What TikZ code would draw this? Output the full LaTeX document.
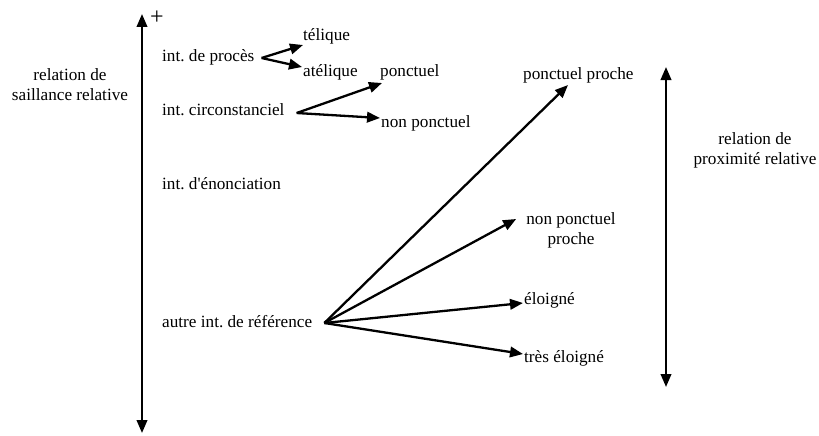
\documentclass[tikz,border=0pt]{standalone}
\usepackage{fontspec}
\setmainfont{Liberation Serif}
\usetikzlibrary{arrows.meta}
\frenchspacing
\tikzset{
  lbl/.style={inner sep=0pt, anchor=west, font=\fontsize{17.2pt}{20pt}\selectfont},
  clbl/.style={inner sep=0pt, align=center, font=\fontsize{17.2pt}{20pt}\selectfont},
  arr/.style={line width=2.3pt, -{Triangle[length=13pt,width=10.5pt]}},
  darr/.style={line width=2.3pt, {Triangle[length=13pt,width=10.5pt]}-{Triangle[length=13pt,width=10.5pt]}}
}
\begin{document}
\begin{tikzpicture}[x=1pt,y=-1pt]
\useasboundingbox (0,0) rectangle (819,436);
% axes
\coordinate (ltop) at (142,14);
\coordinate (lbot) at (142,433);
\coordinate (rtop) at (666,67);
\coordinate (rbot) at (666,387);
\draw[darr] (lbot) -- (ltop);
\draw[darr] (rbot) -- (rtop);
\node[inner sep=0pt, font=\fontsize{24pt}{24pt}\selectfont] (plus) at (157,18) {+};
\node[clbl] (sail) at (70,85) {relation de\\saillance relative};
\node[clbl] (prox) at (755,150) {relation de\\proximité relative};
% left texts
\node[lbl] (proces) at (162,57) {int. de procès};
\node[lbl] (telique) at (303,36) {télique};
\node[lbl] (atelique) at (303,72) {atélique};
\node[lbl] (ponct) at (380,72) {ponctuel};
\node[lbl] (circ) at (162,110) {int. circonstanciel};
\node[lbl] (nponct) at (381,123) {non ponctuel};
\node[lbl] (enonc) at (162,184) {int. d\textquotesingle énonciation};
\node[lbl] (autre) at (162,322) {autre int. de référence};
% right texts
\node[lbl] (pproche) at (523,75) {ponctuel proche};
\node[clbl] (npproche) at (571,230) {non ponctuel\\proche};
\node[lbl] (eloigne) at (524,300) {éloigné};
\node[lbl] (tres) at (524,358) {très éloigné};
% arrows
\draw[arr] ([xshift=7pt,yshift=-1pt]proces.east) -- ([yshift=-9pt]telique.west);
\draw[arr] ([xshift=7pt,yshift=-1pt]proces.east) -- ([xshift=-1pt,yshift=5pt]atelique.west);
\draw[arr] ([xshift=12pt,yshift=-3pt]circ.east) -- ([xshift=2pt,yshift=-11pt]ponct.west);
\draw[arr] ([xshift=12pt,yshift=-3pt]circ.east) -- ([xshift=-1pt,yshift=5pt]nponct.west);
\draw[arr] ([xshift=12pt,yshift=-1pt]autre.east) -- ([xshift=45pt,yshift=-10pt]pproche.west);
\draw[arr] ([xshift=12pt,yshift=-1pt]autre.east) -- ([xshift=-10pt,yshift=11pt]npproche.west);
\draw[arr] ([xshift=12pt,yshift=-1pt]autre.east) -- ([xshift=-1pt,yshift=-3pt]eloigne.west);
\draw[arr] ([xshift=12pt,yshift=-1pt]autre.east) -- ([xshift=-1pt,yshift=4pt]tres.west);
\end{tikzpicture}
\end{document}
